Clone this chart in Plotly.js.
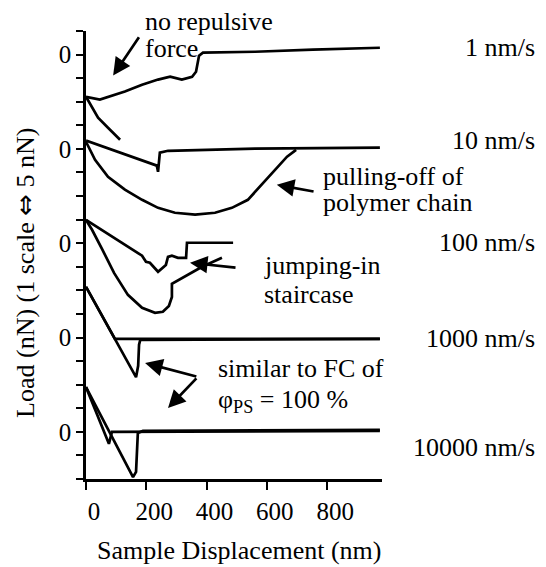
<!DOCTYPE html>
<html><head><meta charset="utf-8">
<script src="https://cdn.plot.ly/plotly-3.0.1.min.js"></script>
<style>
html,body{margin:0;padding:0;background:#fff}
.modebar-container{display:none !important}
</style>
</head><body>
<div id="chart" style="width:546px;height:567px"></div>
<script>
// ---- data (displacement in nm, load in nN) ----
const speedLabels = ["1 nm/s", "10 nm/s", "100 nm/s", "1000 nm/s", "10000 nm/s"];
const nNPerScale = 5;
const xTickVals = [0, 200, 400, 600, 800];

// 1 nm/s
const x1Retract = [0, 46, 129, 186, 239, 279, 318, 352, 365, 371, 375, 388, 561, 753, 975];
const load1Retract = [-8.95, -9.55, -7.85, -6.4, -5.3, -4.7, -5.3, -4.7, -3.65, -1.95, -0.25, 0.4, 0.6, 1.05, 1.45];
const x1Approach = [0, 20, 40, 73, 113];
const load1Approach = [-8.95, -11.25, -13.4, -15.5, -18.05];

// 10 nm/s
const x10Retract = [0, 235, 239, 245, 272, 561, 975];
const load10Retract = [1.75, -3.55, -4.85, -0.8, -0.4, 0.05, 0.25];
const x10Approach = [0, 30, 73, 129, 186, 239, 295, 362, 428, 484, 537, 587, 634, 667, 697];
const load10Approach = [1.5, -2.3, -5.9, -8.65, -10.8, -12.5, -13.55, -13.95, -13.55, -12.5, -10.8, -7.2, -3.8, -1.65, -0.2];

// 100 nm/s
const x100Retract = [0, 73, 146, 186, 199, 212, 239, 265, 272, 285, 305, 332, 335, 488];
const load100Retract = [4.95, 2.0, -1.0, -2.65, -3.95, -4.15, -6.05, -4.6, -2.9, -2.65, -3.1, -3.1, 0.1, 0.1];
const x100Approach = [0, 20, 53, 93, 139, 186, 229, 255, 275, 285, 285, 332, 385, 451];
const load100Approach = [4.95, 2.85, -1.2, -6.3, -10.95, -13.7, -14.75, -14.55, -13.3, -11.4, -8.6, -6.9, -5.0, -3.1];

// 1000 nm/s
const x1000Retract = [0, 96, 166, 173, 176, 180, 975];
const load1000Retract = [10.75, -0.5, -8.4, -6.0, -1.5, -0.5, -0.3];
const x1000Approach = [0, 96, 975];
const load1000Approach = [10.75, -0.3, -0.3];

// 10000 nm/s
const x10000Retract = [0, 119, 156, 166, 172, 189, 975];
const load10000Retract = [9.5, -4.9, -9.6, -8.5, -0.25, 0.2, 0.4];
const x10000Approach = [0, 76, 86, 975];
const load10000Approach = [9.5, -2.55, 0, 0.2];

// ---- layout helpers ----
const stackOffset = [18, 14, 10, 6, 2];   // zero level of each curve, in scale units
const curves = [
  [x1Retract, load1Retract, x1Approach, load1Approach],
  [x10Retract, load10Retract, x10Approach, load10Approach],
  [x100Retract, load100Retract, x100Approach, load100Approach],
  [x1000Retract, load1000Retract, x1000Approach, load1000Approach],
  [x10000Retract, load10000Retract, x10000Approach, load10000Approach]
];
function fnt(size) { return {family: "Liberation Serif", size: size, color: "#000"}; }
const traces = [];
curves.forEach((c, i) => {
  for (let k = 0; k < 2; k++) {
    traces.push({
      x: c[2 * k],
      y: c[2 * k + 1].map(v => stackOffset[i] + v / nNPerScale),
      mode: "lines", name: speedLabels[i],
      line: {color: "#000", width: 2.7}, hoverinfo: "skip"
    });
  }
});

const yTickVals = Array.from({length: 20}, (_, i) => i);
const yTickText = yTickVals.map(v => stackOffset.includes(v) ? "0" : "");

const ann = [];
function txt(t, x, y, xanchor, xref, yref) {
  ann.push({text: t, x: x, y: y, xref: xref || "x", yref: yref || "y", xanchor: xanchor || "left",
    yanchor: "middle", showarrow: false, font: fnt(26)});
}
function arrow(hx, hy, tx, ty) {
  ann.push({x: hx, y: hy, ax: tx, ay: ty, xref: "x", yref: "y", axref: "x", ayref: "y",
    text: "", showarrow: true, arrowhead: 2, arrowsize: 1.3, arrowwidth: 2.7, arrowcolor: "#000", standoff: 0});
}
// speed labels on the right
const labelY = [18.29, 14.35, 10.02, 5.94, 1.32];
speedLabels.forEach((s, i) => txt(s, 1.524, labelY[i], "right", "paper"));
// notes
txt("no repulsive", 0.193, 1.021, "left", "paper", "paper");
txt("force", 189, 18.25);
txt("pulling-off of", 779, 12.82);
txt("polymer chain", 779, 11.71);
txt("jumping-in", 584, 9.04);
txt("staircase", 584, 7.81);
txt("similar to FC of", 431, 4.67);
txt("φ<sub>PS</sub> = 100 %", 431, 3.31);
arrow(90, 17.11, 179, 18.80);
arrow(633, 12.48, 760, 12.18);
arrow(345, 9.17, 501, 8.96);
arrow(196, 4.92, 371, 4.33);
arrow(272, 3.01, 371, 4.33);
// axis titles
ann.push({text: "Load (nN) (1 scale <span style=\"font-family:DejaVu Sans\">⇔</span> 5 nN)", textangle: -90,
  xref: "paper", yref: "paper", x: -0.206, y: 0.46, xanchor: "center", yanchor: "middle", showarrow: false,
  font: fnt(26)});
ann.push({text: "Sample Displacement (nm)", xref: "paper", yref: "paper",
  x: 0.517, y: -0.159, xanchor: "center", yanchor: "middle", showarrow: false, font: fnt(26)});

const layout = {
  width: 546, height: 567, showlegend: false,
  margin: {l: 86, r: 164, t: 31, b: 88},
  xaxis: {range: [0, 982], tickvals: xTickVals, ticks: "outside", ticklen: 8, tickwidth: 2,
    tickcolor: "#000", showline: true, linewidth: 2.5, linecolor: "#000", showgrid: false,
    zeroline: false, tickfont: fnt(25), ticklabelshift: 8},
  yaxis: {range: [0, 19], tickvals: yTickVals, ticktext: yTickText, ticks: "outside", ticklen: 7,
    tickwidth: 2, tickcolor: "#000", showline: true, linewidth: 2.5, linecolor: "#000",
    showgrid: false, zeroline: false, tickfont: fnt(25)},
  annotations: ann
};
Plotly.newPlot("chart", traces, layout);
</script>
</body></html>
